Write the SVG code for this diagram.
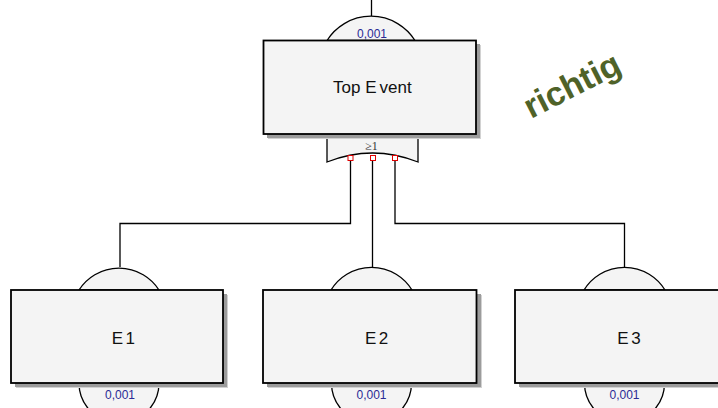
<svg xmlns="http://www.w3.org/2000/svg" width="718" height="408" viewBox="0 0 718 408">
  <style>
    .box { fill: #f4f4f4; stroke: #000; stroke-width: 1.8; }
    .sh1 { fill: #d2d2d2; }
    .sh2 { fill: #9c9c9c; }
    .cap { fill: #f4f4f4; stroke: #000; stroke-width: 1.3; }
    .lbl { font-family: "Liberation Sans", Arial, sans-serif; font-size: 17px; fill: #111; }
    .prob { font-family: "Liberation Sans", Arial, sans-serif; font-size: 12px; fill: #2b2b95; text-anchor: middle; }
    .wire { fill: none; stroke: #000; stroke-width: 1.3; }
    .pin { fill: #fff; stroke: #e00000; stroke-width: 1; }
  </style>
  <rect width="718" height="408" fill="#ffffff"/>

  <g id="connectors">
    <line class="wire" x1="371.5" y1="0" x2="371.5" y2="16"/>
    <polyline class="wire" points="350.5,160 350.5,223.5 120,223.5 120,267"/>
    <line class="wire" x1="372.5" y1="160" x2="372.5" y2="267"/>
    <polyline class="wire" points="395,160 395,223.5 624.5,223.5 624.5,267"/>
  </g>

  <g id="top-event">
    <path class="cap" d="M327,40.5 A52,52 0 0 1 415,40.5 Z"/>
    <text class="prob" x="372" y="37.5">0,001</text>
    <path class="cap" d="M327,134 L327,162 Q372.5,144 418,162 L418,134 Z"/>
    <text x="371.5" y="150" font-family="Liberation Serif, serif" font-size="12" fill="#333" text-anchor="middle">≥1</text>
    <rect class="pin" x="348" y="155.5" width="5" height="5"/>
    <rect class="pin" x="370.5" y="155.5" width="5" height="5"/>
    <rect class="pin" x="392.5" y="155.5" width="5" height="5"/>
    <rect class="sh1" x="268" y="45" width="213" height="94"/>
    <rect class="sh2" x="267" y="44" width="213" height="94"/>
    <rect class="box" x="263.5" y="40.5" width="212.5" height="93.5"/>
    <text class="lbl" x="333" y="93">Top E<tspan dx="3">vent</tspan></text>
  </g>

  <g id="E1">
    <path class="cap" d="M79,290 A47.5,47.5 0 0 1 159,290 Z"/>
    <path class="cap" d="M79,383 A40,40 0 0 0 159,383 Z"/>
    <text class="prob" x="120" y="398.5">0,001</text>
    <rect class="sh1" x="16" y="295" width="212" height="93"/>
    <rect class="sh2" x="15" y="294" width="212" height="93"/>
    <rect class="box" x="11" y="290" width="212" height="93"/>
    <text class="lbl" x="111.7" y="344">E<tspan dx="2.5">1</tspan></text>
  </g>

  <g id="E2">
    <path class="cap" d="M331,290 A47.5,47.5 0 0 1 412,290 Z"/>
    <path class="cap" d="M331.5,383 A40,40 0 0 0 411.5,383 Z"/>
    <text class="prob" x="371.5" y="398.5">0,001</text>
    <rect class="sh1" x="268" y="295" width="214" height="93"/>
    <rect class="sh2" x="267" y="294" width="214" height="93"/>
    <rect class="box" x="263" y="290" width="213.5" height="93"/>
    <text class="lbl" x="365" y="344">E<tspan dx="2.5">2</tspan></text>
  </g>

  <g id="E3">
    <path class="cap" d="M584,290 A47.5,47.5 0 0 1 665,290 Z"/>
    <path class="cap" d="M584.5,383 A40,40 0 0 0 664.5,383 Z"/>
    <text class="prob" x="624.5" y="398.5">0,001</text>
    <rect class="sh1" x="520" y="295" width="214" height="93"/>
    <rect class="sh2" x="519" y="294" width="214" height="93"/>
    <rect class="box" x="515" y="290" width="213.5" height="93"/>
    <text class="lbl" x="617.3" y="344">E<tspan dx="2.5">3</tspan></text>
  </g>

  <text x="531" y="119" transform="rotate(-27 531 119)" font-family="Liberation Sans, Arial, sans-serif" font-size="34" font-weight="bold" fill="#4f6228">richtig</text>
</svg>
